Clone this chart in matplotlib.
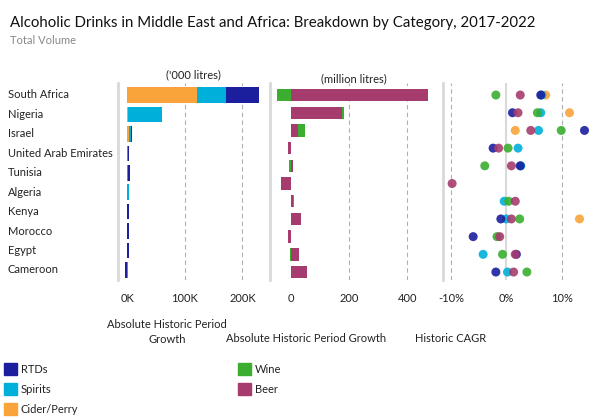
import numpy as np
import matplotlib
matplotlib.use("Agg")
import matplotlib.pyplot as plt
from matplotlib.patches import Rectangle

plt.rcParams['font.family'] = ['Lato', 'DejaVu Sans']

# Colours per category
C_RTD = "#1b1f9e"
C_SPI = "#00b0da"
C_CID = "#f9a43b"
C_WIN = "#3bae2f"
C_BEE = "#a63c6e"

countries = ["South Africa", "Nigeria", "Israel", "United Arab Emirates", "Tunisia",
             "Algeria", "Kenya", "Morocco", "Egypt", "Cameroon"]

# Absolute growth ('000 litres)
cider_k = [122, 1, 3, 0, 0, 0, 0, 0, 0, 0]
spirits_k = [49, 58.7, 4, 0.8, 0.5, 3, 0, 0, 0, 1.5]
rtds_k = [58, 1, 1.5, 2.5, 3.5, 0, 2.5, 2.5, 2.5, -4]

# Absolute growth (million litres), 11 rows as in the source
beer_m = [470, 177, 24, -10, 8, -35, 9, 34, -8, 30, 55]
wine_m = [-46, 6, 25, 2, -5, 0, 1, 2, -1, -2, 2]

# Historic CAGR (%)
nan = np.nan
cider_cagr = [7.1, 11.4, 1.6, nan, nan, nan, nan, 13.2, nan, nan, nan]
spirits_cagr = [6.4, 6.2, 5.8, 2.1, 2.6, nan, -0.4, 0.0, nan, -4.2, 0.2]
rtds_cagr = [6.2, 1.1, 14.1, -2.4, 2.5, nan, nan, -1.0, -6.0, 1.8, -1.9]
wine_cagr = [-1.9, 5.6, 9.9, 0.3, -3.9, nan, 0.4, 2.4, -1.7, -0.7, 3.7]
beer_cagr = [2.5, 2.1, 4.4, -1.4, 0.9, -9.8, 1.6, 0.9, -1.2, 1.6, 1.3]

W, H = 601, 420
FS = 8
fig = plt.figure(figsize=(W / 100, H / 100), dpi=100)


def px_axes(x0, y0, x1, y1):
    return fig.add_axes([x0 / W, 1 - y1 / H, (x1 - x0) / W, (y1 - y0) / H])


def style(ax, ticks, labels):
    for s in ["top", "right", "bottom"]:
        ax.spines[s].set_visible(False)
    ax.spines["left"].set_color("#d9d9d9")
    ax.spines["left"].set_linewidth(2)
    ax.set_yticks([])
    ax.set_xticks(ticks)
    ax.set_xticklabels(labels, fontsize=FS, color="#222222")
    ax.tick_params(axis="x", length=0, pad=9)


def stack(ax, y, series, colors, h):
    pos = np.zeros(len(y))
    neg = np.zeros(len(y))
    for vals, col in zip(series, colors):
        v = np.array(vals, dtype=float)
        left = np.where(v >= 0, pos, neg)
        ax.barh(y, v, left=left, height=h, color=col, zorder=3)
        pos = pos + np.where(v >= 0, v, 0)
        neg = neg + np.where(v < 0, v, 0)


# Panel 1
ax1 = px_axes(118, 83, 270, 280)
y1 = np.arange(len(countries))
stack(ax1, y1, [cider_k, spirits_k, rtds_k], [C_CID, C_SPI, C_RTD], 0.8)
ax1.set_xlim(-16, 248)
ax1.set_ylim(9.52, -0.62)
for g in [100, 200]:
    ax1.axvline(g, color="#b0b0b0", lw=0.8, ls=(0, (4, 3)), zorder=1)
style(ax1, [0, 100, 200], ["0K", "100K", "200K"])
for i, c in enumerate(countries):
    fig.text(8 / W, 1 - (95 + 19.44 * i) / H, c, fontsize=FS, va="center", ha="left", color="#222222")

# Panel 2
ax2 = px_axes(270, 83, 442.7, 280)
y2 = np.arange(len(beer_m))
stack(ax2, y2, [beer_m, wine_m], [C_BEE, C_WIN], 0.7)
ax2.set_xlim(-71, 521)
ax2.set_ylim(10.45, -0.68)
for g in [200, 400]:
    ax2.axvline(g, color="#b0b0b0", lw=0.8, ls=(0, (4, 3)), zorder=1)
style(ax2, [0, 200, 400], ["0", "200", "400"])

# Panel 3
ax3 = px_axes(442.7, 83, 600, 280)
y3 = np.arange(len(beer_cagr))
for vals, col in [(cider_cagr, C_CID), (spirits_cagr, C_SPI), (rtds_cagr, C_RTD),
                  (wine_cagr, C_WIN), (beer_cagr, C_BEE)]:
    ax3.scatter(vals, y3, s=42, color=col, alpha=0.9, edgecolors="none", zorder=3)
ax3.set_xlim(-11.5, 16.9)
ax3.set_ylim(10.45, -0.68)
for g in [-10, 10]:
    ax3.axvline(g, color="#b0b0b0", lw=0.8, ls=(0, (4, 3)), zorder=1)
ax3.axvline(0, color="#d9d9d9", lw=1.5, zorder=1)
style(ax3, [-10, 0, 10], ["-10%", "0%", "10%"])

# Titles and captions
fig.text(10 / W, 1 - 23 / H, "Alcoholic Drinks in Middle East and Africa: Breakdown by Category, 2017-2022",
         fontsize=10.8, va="center", ha="left", color="#111111")
fig.text(10 / W, 1 - 41 / H, "Total Volume", fontsize=FS, va="center", ha="left", color="#888888")
fig.text(193.5 / W, 1 - 75 / H, "('000 litres)", fontsize=FS, va="center", ha="center", color="#222222")
fig.text(353.7 / W, 1 - 79 / H, "(million litres)", fontsize=FS, va="center", ha="center", color="#222222")
fig.text(167 / W, 1 - 332 / H, "Absolute Historic Period\nGrowth", fontsize=FS, va="center",
         ha="center", color="#222222", linespacing=1.4)
fig.text(306.5 / W, 1 - 339 / H, "Absolute Historic Period Growth", fontsize=FS, va="center",
         ha="center", color="#222222")
fig.text(451 / W, 1 - 339 / H, "Historic CAGR", fontsize=FS, va="center", ha="center", color="#222222")

# Legends
leg_left = [("RTDs", C_RTD), ("Spirits", C_SPI), ("Cider/Perry", C_CID)]
leg_mid = [("Wine", C_WIN), ("Beer", C_BEE)]
for x0, items in [(4, leg_left), (238, leg_mid)]:
    for i, (lab, col) in enumerate(items):
        yy = 363 + 20 * i
        fig.add_artist(Rectangle((x0 / W, 1 - (yy + 12) / H), 12.5 / W, 12.5 / H,
                                 transform=fig.transFigure, color=col))
        fig.text((x0 + 17) / W, 1 - (yy + 6.5) / H, lab, fontsize=FS, va="center", ha="left",
                 color="#222222")

fig.savefig("out.png", dpi=100)
